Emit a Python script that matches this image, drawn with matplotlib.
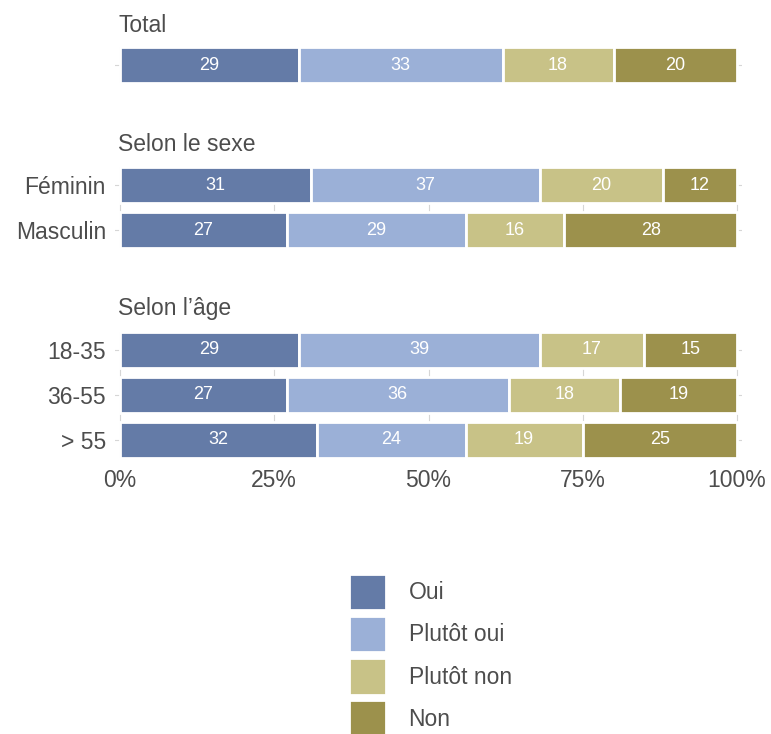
import matplotlib
matplotlib.use("Agg")
import matplotlib.pyplot as plt
import numpy as np

plt.rcParams['font.family'] = ['Liberation Sans', 'DejaVu Sans']

categories = ["Oui", "Plutôt oui", "Plutôt non", "Non"]
colors = ["#647BA7", "#9BB0D7", "#C8C287", "#9C914C"]

total_labels = ["Total"]
total_values = [[29, 33, 18, 20]]

sexe_labels = ["Féminin", "Masculin"]
sexe_values = [[31, 37, 20, 12],
               [27, 29, 16, 28]]

age_labels = ["18-35", "36-55", "> 55"]
age_values = [[29, 39, 17, 15],
              [27, 36, 18, 19],
              [32, 24, 19, 25]]

panels = [
    ("Total", total_labels, total_values, False),
    ("Selon le sexe", sexe_labels, sexe_values, True),
    ("Selon l’âge", age_labels, age_values, True),
]

W, H = 771, 734
fig = plt.figure(figsize=(W / 100, H / 100), dpi=100)

PITCH = 45.0          # pixels per bar slot
BAR_H = 0.8
LEFT_PX, RIGHT_PX = 115, 742
first_centers = [65.3, 185.3, 349.7]
title_baselines = [31.5, 151.0, 315.5]

text_color = "#4D4D4D"
grid_color = "#D6D6D6"
FS = 16.5

containers = None
for i, (title, labels, values, show_ylabels) in enumerate(panels):
    n = len(labels)
    span = n - 1 + BAR_H            # panel spans exactly the bar block
    h_px = span * PITCH
    top = first_centers[i] - BAR_H / 2 * PITCH
    ax = fig.add_axes([LEFT_PX / W, 1 - (top + h_px) / H,
                       (RIGHT_PX - LEFT_PX) / W, h_px / H])
    vals = np.array(values, dtype=float)
    y = np.arange(n)
    left = np.zeros(n)
    conts = []
    for j, cat in enumerate(categories):
        c = ax.barh(y, vals[:, j], left=left, height=BAR_H, color=colors[j],
                    edgecolor="white", linewidth=2, label=cat, zorder=2)
        conts.append(c)
        for k in range(n):
            ax.text(left[k] + vals[k, j] / 2, y[k], f"{int(vals[k, j])}",
                    ha="center", va="center", color="white", fontsize=13,
                    zorder=3)
        left = left + vals[:, j]
    if containers is None:
        containers = conts

    ax.set_xlim(-0.8, 100.8)
    ax.set_ylim(n - 1 + BAR_H / 2, -BAR_H / 2)
    ax.set_xticks([0, 25, 50, 75, 100])
    ax.set_yticks(y)
    ax.grid(True, color=grid_color, linewidth=0.8, zorder=0)
    ax.set_axisbelow(True)
    for s in ax.spines.values():
        s.set_visible(False)
    ax.tick_params(length=0)
    if show_ylabels:
        ax.set_yticklabels(labels, fontsize=FS, color=text_color)
    else:
        ax.set_yticklabels([])
    ax.tick_params(axis="y", pad=6.5)
    if i == len(panels) - 1:
        ax.set_xticklabels(["0%", "25%", "50%", "75%", "100%"],
                           fontsize=FS, color=text_color)
        ax.tick_params(axis="x", pad=8.4)
    else:
        ax.set_xticklabels([])

    fig.text(118 / W, 1 - title_baselines[i] / H, title, fontsize=FS,
             color=text_color, ha="left", va="baseline")

fig.legend(handles=containers, labels=categories, loc="upper left",
           bbox_to_anchor=(349 / W, 1 - 573.5 / H), frameon=False,
           fontsize=FS, handlelength=1.6, handleheight=2.075,
           labelspacing=0.253, handletextpad=1.0, borderpad=0,
           borderaxespad=0, labelcolor=text_color)

fig.savefig("out.png", dpi=100, facecolor="white")
